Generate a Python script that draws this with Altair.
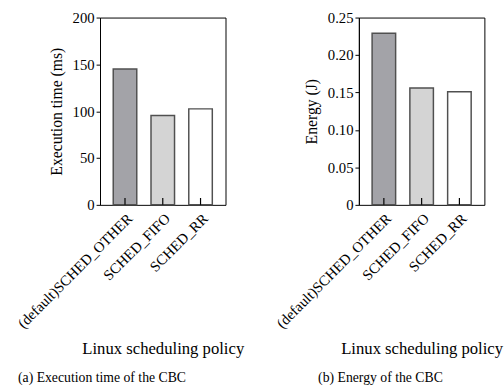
import altair as alt
import pandas as pd

policies = ["(default)SCHED_OTHER", "SCHED_FIFO", "SCHED_RR"]
exec_ms = [145, 95.5, 102.5]
energy_j = [0.229, 0.156, 0.151]
fills = ["#a3a3a8", "#d4d4d4", "#ffffff"]
exec_ticks = [0, 50, 100, 150, 200]
energy_ticks = [0, 0.05, 0.10, 0.15, 0.20, 0.25]

FONT = "Liberation Serif"
W, H = 128, 191


def panel(values, ytitle, ydomain, yticks, label_expr, caption, cap_dx):
    df = pd.DataFrame({"policy": policies, "value": values, "fill": fills})
    xenc = alt.X(
        "policy:N", sort=policies, title="Linux scheduling policy",
        scale=alt.Scale(paddingInner=0.377, paddingOuter=0.35),
        axis=alt.Axis(labelAngle=-45, ticks=False, domain=False,
                      labelFont=FONT, labelFontSize=15, labelColor="black",
                      labelPadding=6, titleFont=FONT, titleFontSize=17,
                      titleFontWeight="normal", titleColor="black",
                      titlePadding=10),
    )
    bars = alt.Chart(df).mark_bar(stroke="#505050", strokeWidth=1.5).encode(
        x=xenc,
        y=alt.Y("value:Q", title=ytitle,
                scale=alt.Scale(domain=ydomain, nice=False, zero=True),
                axis=alt.Axis(values=yticks, labelExpr=label_expr, grid=False,
                              domainColor="black", tickColor="black",
                              tickSize=4, labelFont=FONT, labelFontSize=15,
                              labelColor="black", labelPadding=2,
                              titleFont=FONT, titleFontSize=16,
                              titleFontWeight="normal", titleColor="black",
                              titlePadding=8)),
        fill=alt.Fill("fill:N", scale=None),
    )
    ticks = alt.Chart(df).mark_rule(color="black", strokeWidth=1.2).encode(
        x=alt.X("policy:N", sort=policies),
        y=alt.value(H),
        y2=alt.value(H - 7),
    )
    return alt.layer(bars, ticks).properties(
        width=W, height=H,
        title=alt.TitleParams(caption, orient="bottom", font=FONT, fontSize=14,
                              fontWeight="normal", color="black", offset=15,
                              dx=cap_dx),
    )


left = panel(exec_ms, "Execution time (ms)", [0, 200], exec_ticks,
             "datum.value", "(a) Execution time of the CBC", -62)
right = panel(energy_j, "Energy (J)", [0, 0.25], energy_ticks,
              "datum.value == 0 ? '0' : format(datum.value, '.2f')",
              "(b) Energy of the CBC", -42)

chart = alt.hconcat(left, right, spacing=28).configure(
    background="white",
    font=FONT,
    padding={"left": 14, "top": 6, "right": 0, "bottom": 5},
    view=alt.ViewConfig(stroke="black", strokeWidth=1),
)

chart.save("out.html", embed_options={"renderer": "svg", "actions": False})
